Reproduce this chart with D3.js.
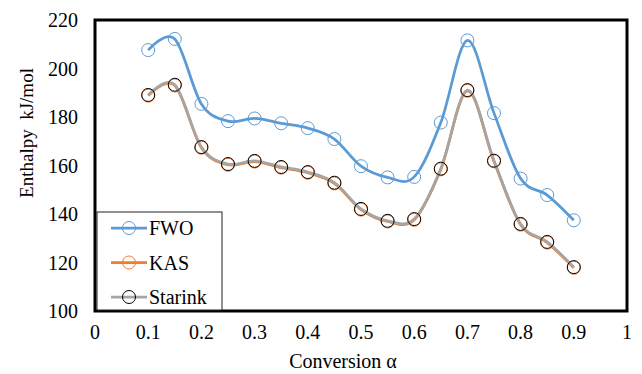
<!DOCTYPE html>
<html>
<head>
<meta charset="utf-8">
<script src="https://cdn.jsdelivr.net/npm/d3@7"></script>
</head>
<body style="margin:0">
<div id="container"></div>
<script>
/* DATA */
const conversion = [0.1, 0.15, 0.2, 0.25, 0.3, 0.35, 0.4, 0.45, 0.5, 0.55, 0.6, 0.65, 0.7, 0.75, 0.8, 0.85, 0.9];
const fwo     = [207.6, 212.2, 185.4, 178.3, 179.4, 177.4, 175.4, 170.9, 159.7, 155.1, 155.3, 177.7, 211.6, 181.6, 154.6, 147.8, 137.4];
const kas     = [188.8, 193.0, 167.3, 160.3, 161.6, 159.1, 157.0, 152.6, 141.8, 136.9, 137.6, 158.4, 190.8, 161.7, 135.6, 128.2, 117.8];
const starink = [189.1, 193.3, 167.6, 160.6, 161.9, 159.4, 157.3, 152.9, 142.1, 137.2, 137.9, 158.7, 191.1, 162.0, 135.9, 128.5, 118.1];
const xTicks = [0, 0.1, 0.2, 0.3, 0.4, 0.5, 0.6, 0.7, 0.8, 0.9, 1];
const yTicks = [100, 120, 140, 160, 180, 200, 220];

const series = [
  { name: "FWO", values: fwo, line: "#5B9BD5", marker: "#5B9BD5" },
  { name: "KAS", values: kas, line: "#ED7D31", marker: "#ED7D31" },
  { name: "Starink", values: starink, line: "#A5A5A5", marker: "#000000" }
];

/* CONSTANTS */
const width = 642, height = 374;
const margin = { top: 20, right: 15, bottom: 63, left: 95 };

const svg = d3.select("#container")
  .append("svg")
  .attr("width", width)
  .attr("height", height);

// every label uses the same serif face
const label = (sel, size) => sel
  .attr("font-family", "Liberation Serif")
  .attr("font-size", size)
  .style("font-family", "Liberation Serif", "important")
  .style("font-size", size + "px", "important");

// scales
const x = d3.scaleLinear().domain([0, 1]).range([margin.left, width - margin.right]);
const y = d3.scaleLinear().domain([100, 220]).range([height - margin.bottom, margin.top]);

// tick labels
svg.selectAll("text.ytick")
  .data(yTicks)
  .join("text")
  .attr("class", "ytick")
  .attr("x", 78)
  .attr("y", d => y(d))
  .attr("dy", "0.35em")
  .attr("text-anchor", "end")
  .call(label, 20)
  .text(d => d);

svg.selectAll("text.xtick")
  .data(xTicks)
  .join("text")
  .attr("class", "xtick")
  .attr("x", d => x(d))
  .attr("y", height - margin.bottom + 28)
  .attr("text-anchor", "middle")
  .call(label, 20)
  .text(d => d);

// axis titles
svg.append("text")
  .attr("x", 343)
  .attr("y", 368)
  .attr("text-anchor", "middle")
  .call(label, 20)
  .text("Conversion α");

svg.append("text")
  .attr("transform", "translate(33, 133) rotate(-90)")
  .attr("text-anchor", "middle")
  .call(label, 19)
  .style("white-space", "pre")
  .text("Enthalpy  kJ/mol");

// lines, Excel-like smoothing
const line = d3.line()
  .x((d, i) => x(conversion[i]))
  .y(d => y(d))
  .curve(d3.curveCatmullRom.alpha(0));

series.forEach(s => {
  svg.append("path")
    .datum(s.values)
    .attr("d", line)
    .attr("fill", "none")
    .attr("stroke", s.line)
    .attr("stroke-width", 2.75);

  svg.selectAll(null)
    .data(s.values)
    .join("circle")
    .attr("cx", (d, i) => x(conversion[i]))
    .attr("cy", d => y(d))
    .attr("r", 6.5)
    .attr("fill", "none")
    .attr("stroke", s.marker)
    .attr("stroke-width", 1);
});

// plot frame
svg.append("rect")
  .attr("x", margin.left)
  .attr("y", margin.top)
  .attr("width", width - margin.left - margin.right)
  .attr("height", height - margin.top - margin.bottom)
  .attr("fill", "none")
  .attr("stroke", "#000")
  .attr("stroke-width", 3);

// legend
const legend = svg.append("g").attr("transform", "translate(97, 212)");
legend.append("rect")
  .attr("width", 125)
  .attr("height", 98)
  .attr("fill", "#fff")
  .attr("stroke", "#222")
  .attr("stroke-width", 1);

const rows = legend.selectAll("g.row")
  .data(series)
  .join("g")
  .attr("class", "row")
  .attr("transform", (d, i) => `translate(0, ${16 + i * 34.5})`);

rows.append("line")
  .attr("x1", 14).attr("x2", 50)
  .attr("stroke", d => d.line)
  .attr("stroke-width", 2.75);

rows.append("circle")
  .attr("cx", 32)
  .attr("r", 6.5)
  .attr("fill", "none")
  .attr("stroke", d => d.marker)
  .attr("stroke-width", 1);

rows.append("text")
  .attr("x", 52)
  .attr("dy", "0.35em")
  .call(label, 20)
  .text(d => d.name);
</script>
</body>
</html>
